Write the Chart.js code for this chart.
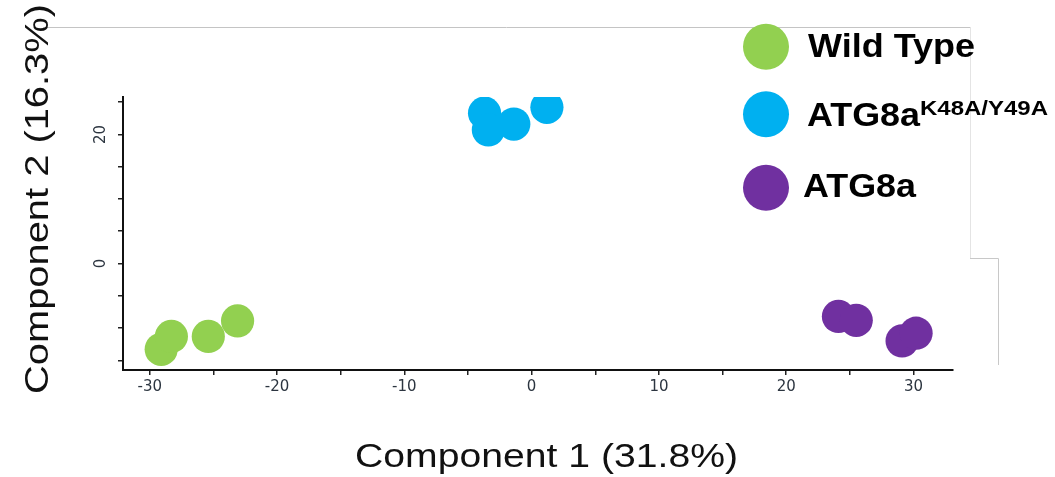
<!DOCTYPE html>
<html>
<head>
<meta charset="utf-8">
<script src="https://cdn.jsdelivr.net/npm/chart.js@4.4.1/dist/chart.umd.min.js"></script>
<style>
  html, body { margin: 0; padding: 0; background: #fff; overflow: hidden; }
  canvas { display: block; }
</style>
</head>
<body>
<canvas id="pca" width="1055" height="477"></canvas>
<script>
// PCA scores: Component 1 (x) and Component 2 (y) for each sample
const wildTypeX = [-29.1, -28.3, -25.4, -23.1];
const wildTypeY = [-13.3, -11.3, -11.3, -8.9];
const mutantX   = [-3.7, -3.4, -1.4, 1.2];
const mutantY   = [23.3, 20.7, 21.6, 24.2];
const atg8aX    = [24.1, 25.5, 29.1, 30.2];
const atg8aY    = [-8.2, -8.8, -12.0, -10.8];

// Group names (legend) and superscript part of each name
const groupNames = ['Wild Type', 'ATG8a', 'ATG8a'];
const groupSup   = ['', 'K48A/Y49A', ''];
const groupColors = ['#92D050', '#00B0F0', '#7030A0'];

// Axis ticks: marks every 5, numbers on a subset
const xTickValues = [-30, -25, -20, -15, -10, -5, 0, 5, 10, 15, 20, 25, 30];
const xTickLabels = [-30, -20, -10, 0, 10, 20, 30];
const yTickValues = [-15, -10, -5, 0, 5, 10, 15, 20, 25];
const yTickLabels = [0, 20];

const xTitle = 'Component 1 (31.8%)';
const yTitle = 'Component 2 (16.3%)';

const toPoints = (xs, ys) => xs.map((x, i) => ({ x: x, y: ys[i] }));

const SANS = '"Liberation Sans", Arial, Helvetica, sans-serif';

function stretchedText(ctx, text, x, y, font, width, color, angle) {
  ctx.save();
  ctx.font = font;
  ctx.fillStyle = color;
  ctx.textAlign = 'left';
  ctx.textBaseline = 'alphabetic';
  ctx.translate(x, y);
  if (angle) ctx.rotate(angle);
  const w = ctx.measureText(text).width;
  ctx.scale(width / w, 1);
  ctx.fillText(text, 0, 0);
  ctx.restore();
}

// Faint frame lines behind the plot
const framePlugin = {
  id: 'frame',
  beforeDraw(chart) {
    const ctx = chart.ctx;
    ctx.save();
    ctx.lineWidth = 1;
    ctx.strokeStyle = '#c4c4c4';
    ctx.beginPath();
    ctx.moveTo(43, 27.5); ctx.lineTo(970, 27.5);
    ctx.stroke();
    ctx.strokeStyle = '#e4e4e4';
    ctx.beginPath();
    ctx.moveTo(970.5, 27); ctx.lineTo(970.5, 258);
    ctx.stroke();
    ctx.strokeStyle = '#c8c8c8';
    ctx.beginPath();
    ctx.moveTo(970, 258.5); ctx.lineTo(998.5, 258.5); ctx.lineTo(998.5, 365);
    ctx.stroke();
    ctx.restore();
  }
};

// Axis titles and the group key
const annotatePlugin = {
  id: 'annotate',
  afterDraw(chart) {
    const ctx = chart.ctx;
    stretchedText(ctx, xTitle, 355, 467, '34px ' + SANS, 383, '#111');
    stretchedText(ctx, yTitle, 48, 394, '34px ' + SANS, 390, '#111', -Math.PI / 2);

    const keyX = 766;
    const keyY = [46.7, 114.3, 187.7];
    const textX = [808, 807, 803];
    const baseY = [57, 126, 197];
    const textW = [167, 113, 113];
    groupNames.forEach((name, i) => {
      ctx.save();
      ctx.fillStyle = groupColors[i];
      ctx.beginPath();
      ctx.arc(keyX, keyY[i], 23, 0, Math.PI * 2);
      ctx.fill();
      ctx.restore();
      stretchedText(ctx, name, textX[i], baseY[i], 'bold 33px ' + SANS, textW[i], '#000');
      if (groupSup[i]) {
        stretchedText(ctx, groupSup[i], textX[i] + textW[i], baseY[i] - 11, 'bold 21px ' + SANS, 128, '#000');
      }
    });
  }
};

const tickFont = { family: '"DejaVu Sans", Arial, sans-serif', size: 15 };

new Chart(document.getElementById('pca'), {
  type: 'scatter',
  data: {
    datasets: [
      { label: groupNames[0], data: toPoints(wildTypeX, wildTypeY), backgroundColor: groupColors[0] },
      { label: groupNames[1] + groupSup[1], data: toPoints(mutantX, mutantY), backgroundColor: groupColors[1] },
      { label: groupNames[2], data: toPoints(atg8aX, atg8aY), backgroundColor: groupColors[2] }
    ]
  },
  options: {
    responsive: false,
    animation: false,
    devicePixelRatio: 1,
    layout: { padding: { left: 0, top: 97, right: 102, bottom: 0 } },
    elements: {
      point: { radius: 16.6, hoverRadius: 16.6, borderWidth: 0, hoverBorderWidth: 0 }
    },
    plugins: {
      legend: { display: false },
      tooltip: { enabled: false }
    },
    scales: {
      x: {
        type: 'linear',
        min: -32.1,
        max: 33.1,
        afterBuildTicks(scale) { scale.ticks = xTickValues.map(v => ({ value: v })); },
        afterFit(scale) { scale.height = 107; },
        border: { display: true, color: '#111', width: 2 },
        grid: { display: true, drawOnChartArea: false, drawTicks: true, tickLength: 5, color: '#222', lineWidth: 1.5 },
        ticks: {
          padding: 3,
          color: '#2c3540',
          font: tickFont,
          maxRotation: 0,
          autoSkip: false,
          callback: v => (xTickLabels.includes(v) ? String(v) : '')
        }
      },
      y: {
        type: 'linear',
        min: -16.5,
        max: 25.8,
        afterBuildTicks(scale) { scale.ticks = yTickValues.map(v => ({ value: v })); },
        afterFit(scale) { scale.width = 123; },
        border: { display: true, color: '#111', width: 2 },
        grid: { display: true, drawOnChartArea: false, drawTicks: true, tickLength: 5, color: '#222', lineWidth: 1.5 },
        ticks: {
          padding: 7,
          color: '#2c3540',
          font: tickFont,
          minRotation: 90,
          maxRotation: 90,
          crossAlign: 'center',
          autoSkip: false,
          callback: v => (yTickLabels.includes(v) ? String(v) : '')
        }
      }
    }
  },
  plugins: [framePlugin, annotatePlugin]
});
</script>
</body>
</html>
